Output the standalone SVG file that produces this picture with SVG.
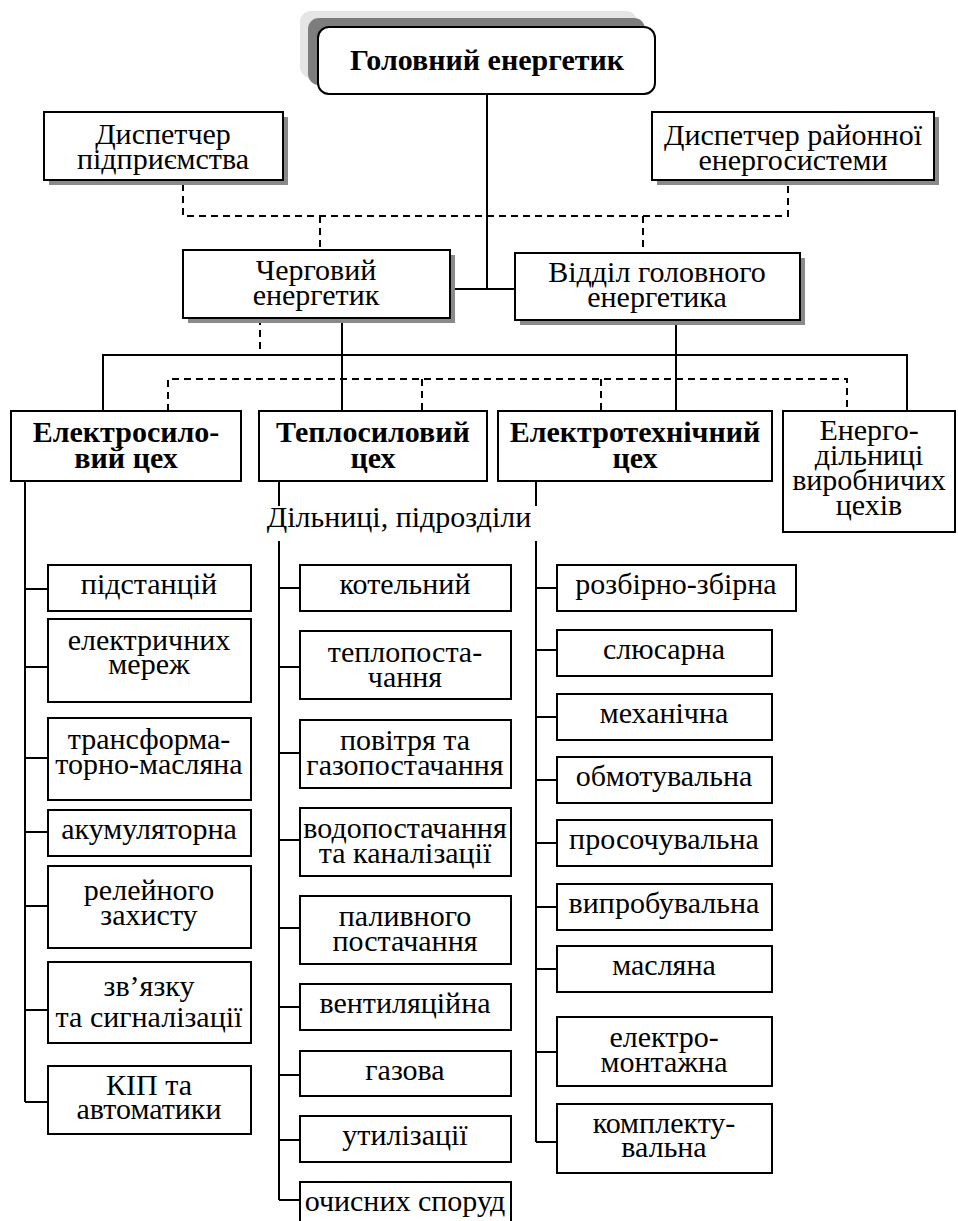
<svg xmlns="http://www.w3.org/2000/svg" width="958" height="1221" viewBox="0 0 958 1221">
  <style>
    .box { fill: #fff; stroke: #000; stroke-width: 2; }
    .sh { fill: #8a8a8a; }
    .ln { stroke: #000; stroke-width: 2; fill: none; }
    .ds { stroke-dasharray: 7 5; }
    .lbl text { font-size: 30px; text-anchor: middle; fill: #000; }
    .b { font-weight: bold; }
  </style>
  <rect width="958" height="1221" fill="#fff"/>

  <!-- connectors -->
  <g id="connectors">
    <!-- head to second level -->
    <path class="ln" d="M487 94 V289 M450 289 H515"/>
    <!-- dispatch links (dashed) -->
    <path class="ln ds" d="M183 184 V216 H788 V184 M320 216 V250 M643 216 V253"/>
    <!-- main distribution bus -->
    <path class="ln" d="M103 411 V355 H907 V411 M342 318 V411 M676 320 V411"/>
    <path class="ln ds" d="M260 318 V355"/>
    <path class="ln ds" d="M168 411 V379 H847 V411 M422 379 V411 M601 379 V411"/>
    <!-- shop stems -->
    <path class="ln" d="M25 481 V1102 M279 481 V506 M536 481 V506 M279 541 V1200 M536 541 V1142"/>
    <!-- left column ticks -->
    <path class="ln" d="M25 589 H48 M25 667 H48 M25 758 H48 M25 832 H48 M25 906 H48 M25 1010 H48 M25 1102 H48"/>
    <!-- middle column ticks -->
    <path class="ln" d="M279 588 H300 M279 667 H300 M279 753 H300 M279 840 H300 M279 928 H300 M279 1007 H300 M279 1075 H300 M279 1140 H300 M279 1200 H300"/>
    <!-- right column ticks -->
    <path class="ln" d="M536 588 H557 M536 650 H557 M536 717 H557 M536 780 H557 M536 843 H557 M536 907 H557 M536 969 H557 M536 1052 H557 M536 1142 H557"/>
  </g>

  <g class="lbl" font-family="'Liberation Serif', 'DejaVu Serif', serif">
  <!-- head -->
  <g id="head">
    <rect x="300" y="11" width="337" height="67" rx="11" fill="#e5e5e5"/>
    <rect x="308" y="18" width="337" height="67" rx="11" fill="#7d7d7d"/>
    <rect class="box" x="318" y="27" width="337" height="67" rx="11"/>
    <text class="b" x="487" y="70">Головний енергетик</text>
  </g>

  <g id="dispatcher-plant">
    <rect class="sh" x="49" y="117" width="239" height="68"/>
    <rect class="box" x="44" y="112" width="239" height="68"/>
    <text x="163" y="144">Диспетчер</text>
    <text x="163" y="169">підприємства</text>
  </g>

  <g id="dispatcher-grid">
    <rect class="sh" x="657" y="117" width="282" height="68"/>
    <rect class="box" x="652" y="112" width="282" height="68"/>
    <text x="793" y="145">Диспетчер районної</text>
    <text x="793" y="170">енергосистеми</text>
  </g>

  <g id="duty">
    <rect class="sh" x="188" y="255" width="267" height="68"/>
    <rect class="box" x="183" y="250" width="267" height="68"/>
    <text x="316" y="280">Черговий</text>
    <text x="316" y="305">енергетик</text>
  </g>

  <g id="department">
    <rect class="sh" x="520" y="258" width="285" height="67"/>
    <rect class="box" x="515" y="253" width="285" height="67"/>
    <text x="657" y="282">Відділ головного</text>
    <text x="657" y="307">енергетика</text>
  </g>

  <!-- shops -->
  <g id="shop-power">
    <rect class="box" x="11" y="411" width="230" height="70"/>
    <text class="b" x="126" y="442">Електросило-</text>
    <text class="b" x="126" y="468">вий цех</text>
  </g>
  <g id="shop-heat">
    <rect class="box" x="259" y="411" width="228" height="70"/>
    <text class="b" x="373" y="442">Теплосиловий</text>
    <text class="b" x="373" y="468">цех</text>
  </g>
  <g id="shop-electro">
    <rect class="box" x="498" y="411" width="274" height="70"/>
    <text class="b" x="635" y="442">Електротехнічний</text>
    <text class="b" x="635" y="468">цех</text>
  </g>
  <g id="shop-sections">
    <rect class="box" x="783" y="411" width="172" height="121"/>
    <text x="869" y="440">Енерго-</text>
    <text x="869" y="465">дільниці</text>
    <text x="869" y="490">виробничих</text>
    <text x="869" y="515">цехів</text>
  </g>

  <g id="caption">
    <text x="399" y="527">Дільниці, підрозділи</text>
  </g>

  <!-- electric power shop units -->
  <g id="p1"><rect class="box" x="48" y="565" width="203" height="46"/><text x="149" y="594">підстанцій</text></g>
  <g id="p2"><rect class="box" x="48" y="619" width="203" height="83"/><text x="149" y="650">електричних</text><text x="149" y="674">мереж</text></g>
  <g id="p3"><rect class="box" x="48" y="718" width="203" height="82"/><text x="149" y="749">трансформа-</text><text x="149" y="774">торно-масляна</text></g>
  <g id="p4"><rect class="box" x="48" y="810" width="203" height="46"/><text x="149" y="839">акумуляторна</text></g>
  <g id="p5"><rect class="box" x="48" y="866" width="203" height="82"/><text x="149" y="900">релейного</text><text x="149" y="925">захисту</text></g>
  <g id="p6"><rect class="box" x="48" y="962" width="203" height="81"/><text x="149" y="996">зв’язку</text><text x="149" y="1027">та сигналізації</text></g>
  <g id="p7"><rect class="box" x="48" y="1066" width="203" height="68"/><text x="149" y="1095">КІП та</text><text x="149" y="1119">автоматики</text></g>

  <!-- heat power shop units -->
  <g id="h1"><rect class="box" x="300" y="565" width="211" height="46"/><text x="405" y="594">котельний</text></g>
  <g id="h2"><rect class="box" x="300" y="631" width="211" height="68"/><text x="405" y="662">теплопоста-</text><text x="405" y="687">чання</text></g>
  <g id="h3"><rect class="box" x="300" y="720" width="211" height="68"/><text x="405" y="750">повітря та</text><text x="405" y="775">газопостачання</text></g>
  <g id="h4"><rect class="box" x="300" y="808" width="211" height="68"/><text x="405" y="838">водопостачання</text><text x="405" y="863">та каналізації</text></g>
  <g id="h5"><rect class="box" x="300" y="896" width="211" height="68"/><text x="405" y="926">паливного</text><text x="405" y="951">постачання</text></g>
  <g id="h6"><rect class="box" x="300" y="984" width="211" height="46"/><text x="405" y="1013">вентиляційна</text></g>
  <g id="h7"><rect class="box" x="300" y="1051" width="211" height="45"/><text x="405" y="1080">газова</text></g>
  <g id="h8"><rect class="box" x="300" y="1116" width="211" height="46"/><text x="405" y="1145">утилізації</text></g>
  <g id="h9"><rect class="box" x="300" y="1182" width="211" height="46"/><text x="405" y="1211">очисних споруд</text></g>

  <!-- electrotechnical shop units -->
  <g id="e1"><rect class="box" x="557" y="565" width="239" height="46"/><text x="676" y="594">розбірно-збірна</text></g>
  <g id="e2"><rect class="box" x="557" y="630" width="215" height="46"/><text x="664" y="659">слюсарна</text></g>
  <g id="e3"><rect class="box" x="557" y="694" width="215" height="46"/><text x="664" y="723">механічна</text></g>
  <g id="e4"><rect class="box" x="557" y="757" width="215" height="46"/><text x="664" y="786">обмотувальна</text></g>
  <g id="e5"><rect class="box" x="557" y="820" width="215" height="46"/><text x="664" y="849">просочувальна</text></g>
  <g id="e6"><rect class="box" x="557" y="884" width="215" height="46"/><text x="664" y="913">випробувальна</text></g>
  <g id="e7"><rect class="box" x="557" y="946" width="215" height="46"/><text x="664" y="975">масляна</text></g>
  <g id="e8"><rect class="box" x="557" y="1017" width="215" height="69"/><text x="664" y="1047">електро-</text><text x="664" y="1072">монтажна</text></g>
  <g id="e9"><rect class="box" x="557" y="1104" width="215" height="69"/><text x="664" y="1133">комплекту-</text><text x="664" y="1157">вальна</text></g>
  </g>
</svg>
